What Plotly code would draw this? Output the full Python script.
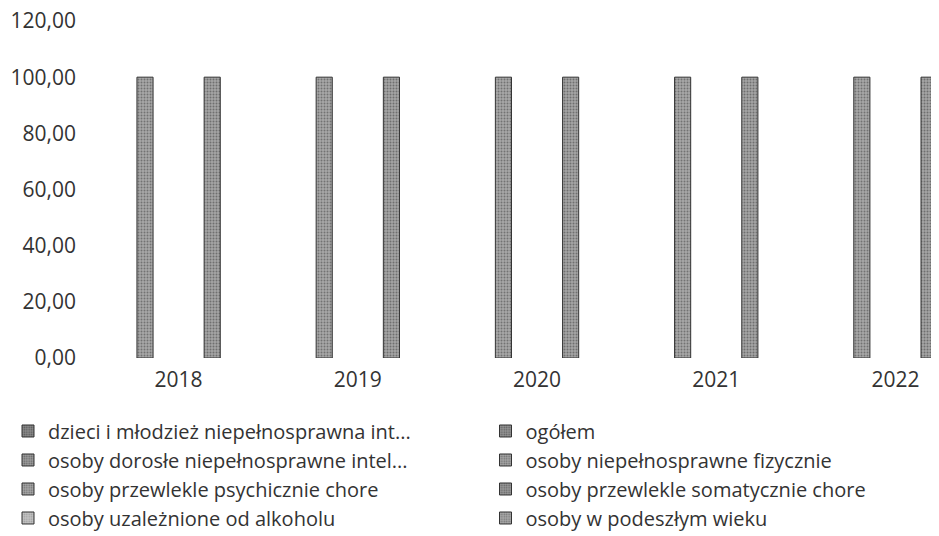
import plotly.graph_objects as go

years = ["2018", "2019", "2020", "2021", "2022"]

series_names = [
    "dzieci i młodzież niepełnosprawna int...",
    "osoby dorosłe niepełnosprawne intel...",
    "osoby przewlekle psychicznie chore",
    "osoby uzależnione od alkoholu",
    "ogółem",
    "osoby niepełnosprawne fizycznie",
    "osoby przewlekle somatycznie chore",
    "osoby w podeszłym wieku",
]

v_dzieci = [None, None, None, None, None]
v_dorosle = [None, None, None, None, None]
v_psych = [100, 100, 100, 100, 100]
v_alkohol = [None, None, None, None, None]
v_ogolem = [None, None, None, None, None]
v_fizycz = [100, 100, 100, 100, 100]
v_somat = [None, None, None, None, None]
v_wiek = [None, None, None, None, None]

series_values = [v_dzieci, v_dorosle, v_psych, v_alkohol, v_ogolem, v_fizycz, v_somat, v_wiek]

bg_colors = ["#8a8a8a", "#9c9c9c", "#a8a8a8", "#c4c4c4", "#949494", "#a4a4a4", "#989898", "#a8a8a8"]
fg_colors = ["#2a2a2a", "#333333", "#3c3c3c", "#777777", "#2a2a2a", "#3a3a3a", "#333333", "#444444"]
legends = ["legend", "legend", "legend", "legend", "legend2", "legend2", "legend2", "legend2"]

fig = go.Figure()
for i, (name, vals) in enumerate(zip(series_names, series_values)):
    fig.add_trace(go.Bar(
        x=years, y=vals, name=name,
        marker=dict(
            color=bg_colors[i],
            line=dict(color="#333333", width=1),
            pattern=dict(shape=".", fgcolor=fg_colors[i], bgcolor=bg_colors[i], size=3, solidity=0.35),
        ),
        legend=legends[i],
        legendgroup=name,
    ))

W, H = 931, 528
leg_font = dict(family="Open Sans", size=20, color="#333333")
fig.update_layout(
    width=W, height=H,
    barmode="group", bargap=0.0, bargroupgap=0.28,
    paper_bgcolor="white", plot_bgcolor="white",
    separators=", ",
    margin=dict(l=80.6, r=0, t=13, b=178, pad=0, autoexpand=False),
    font=dict(family="Open Sans", size=20, color="#333333"),
    legend=dict(xref="container", yref="container", x=0.0, y=0.2358, xanchor="left", yanchor="top",
                orientation="v", font=leg_font, tracegroupgap=0, bgcolor="rgba(0,0,0,0)"),
    legend2=dict(xref="container", yref="container", x=477.5 / W, y=0.2358, xanchor="left", yanchor="top",
                 orientation="v", font=leg_font, tracegroupgap=0, bgcolor="rgba(0,0,0,0)"),
    showlegend=True,
)
fig.update_xaxes(type="category", range=[-0.5, 4.243], showgrid=False, showline=False, zeroline=False,
                 ticks="", ticklabelstandoff=7, ticklabeloverflow="allow",
                 tickfont=dict(family="Open Sans", size=21, color="#333333"))
fig.update_yaxes(range=[0, 120], tickvals=[0, 20, 40, 60, 80, 100, 120], tickformat=".2f",
                 showgrid=False, showline=False, zeroline=False, ticks="", ticklabelstandoff=12,
                 ticklabeloverflow="allow",
                 tickfont=dict(family="Open Sans", size=21, color="#333333"))

fig.write_html("out.html")
